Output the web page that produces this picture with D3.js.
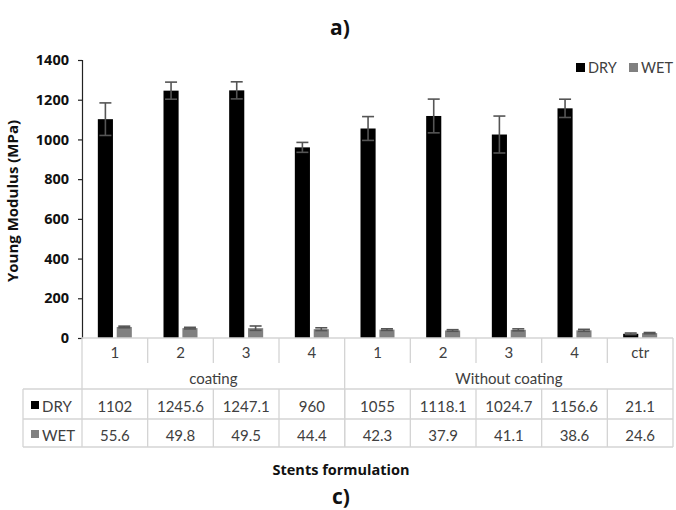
<!DOCTYPE html>
<html>
<head>
<meta charset="utf-8">
<script src="https://cdn.jsdelivr.net/npm/d3@7"></script>
<style>
  html, body { margin: 0; padding: 0; background: #fff; }
  svg { display: block; font-family: Lato, "Open Sans", sans-serif; }
  .bold { font-family: "Open Sans", Lato, sans-serif; font-weight: bold; }
</style>
</head>
<body>
<svg id="chart" width="676" height="510"></svg>
<script>
// ---- data ----
const categories = ["1", "2", "3", "4", "1", "2", "3", "4", "ctr"];
const groups = [
  { name: "coating", from: 0, to: 3 },
  { name: "Without coating", from: 4, to: 8 }
];
const seriesNames = ["DRY", "WET"];
const dryValues = [1102, 1245.6, 1247.1, 960, 1055, 1118.1, 1024.7, 1156.6, 21.1];
const wetValues = [55.6, 49.8, 49.5, 44.4, 42.3, 37.9, 41.1, 38.6, 24.6];
const dryErrors = [82, 43, 43, 25, 60, 85, 93, 46, 4];
const wetErrors = [4, 4, 11, 7, 4, 4, 5, 5, 3];
const yTicks = [0, 200, 400, 600, 800, 1000, 1200, 1400];
const dryLabels = ["1102", "1245.6", "1247.1", "960", "1055", "1118.1", "1024.7", "1156.6", "21.1"];
const wetLabels = ["55.6", "49.8", "49.5", "44.4", "42.3", "37.9", "41.1", "38.6", "24.6"];

const colors = { DRY: "#000000", WET: "#808080" };
const gridColor = "#d4d4d4";
const textColor = "#404040";

const svg = d3.select("#chart");

// layout
const plotLeft = 82, plotRight = 673, plotTop = 60, plotBottom = 338;
const tableLeft = 23;
const rowCatBottom = 363, rowGroupBottom = 389, rowDryBottom = 419, rowWetBottom = 447;

const x = d3.scaleBand().domain(d3.range(categories.length)).range([plotLeft, plotRight]).padding(0);
const y = d3.scaleLinear().domain([0, 1400]).range([plotBottom, plotTop]);
const groupWidth = 34;
const x1 = d3.scaleBand().domain(seriesNames).range([0, groupWidth]).paddingInner(0.2);

const rows = categories.map((c, i) => ({
  i,
  values: [
    { s: "DRY", v: dryValues[i], e: dryErrors[i] },
    { s: "WET", v: wetValues[i], e: wetErrors[i] }
  ]
}));

// title
svg.append("text").attr("class", "bold").attr("x", 340).attr("y", 35).attr("text-anchor", "middle")
  .attr("font-size", 21).attr("fill", "#111").text("a)");

// y axis
const yAxis = d3.axisLeft(y).tickValues(yTicks).tickSize(4).tickFormat(d3.format("d"));
const gy = svg.append("g").attr("transform", `translate(${plotLeft},0)`).call(yAxis);
gy.select(".domain").attr("stroke", "#222").attr("stroke-width", 1.2);
gy.selectAll(".tick line").attr("stroke", "#222").attr("stroke-width", 1.2);
gy.selectAll(".tick text").attr("class", "bold").attr("x", -13).attr("font-size", 14.5)
  .attr("fill", "#111");

svg.append("text").attr("class", "bold").attr("transform", `translate(18,${(plotTop + plotBottom) / 2 + 2}) rotate(-90)`)
  .attr("text-anchor", "middle").attr("font-size", 15).attr("fill", "#111")
  .text("Young Modulus (MPa)");

// bars
const gBars = svg.append("g");
const catG = gBars.selectAll("g.cat").data(rows).join("g")
  .attr("transform", d => `translate(${x(d.i) + x.bandwidth() / 2 - groupWidth / 2},0)`);
catG.selectAll("rect").data(d => d.values).join("rect")
  .attr("x", d => x1(d.s)).attr("width", x1.bandwidth())
  .attr("y", d => y(d.v)).attr("height", d => y(0) - y(d.v))
  .attr("fill", d => colors[d.s]);

// error bars
const capW = 12;
const eb = catG.selectAll("g.err").data(d => d.values).join("g").attr("class", "err")
  .attr("stroke", "#555").attr("stroke-width", 1.6);
eb.append("line")
  .attr("x1", d => x1(d.s) + x1.bandwidth() / 2).attr("x2", d => x1(d.s) + x1.bandwidth() / 2)
  .attr("y1", d => y(d.v + d.e)).attr("y2", d => y(Math.max(0, d.v - d.e)));
eb.append("line")
  .attr("x1", d => x1(d.s) + x1.bandwidth() / 2 - capW / 2).attr("x2", d => x1(d.s) + x1.bandwidth() / 2 + capW / 2)
  .attr("y1", d => y(d.v + d.e)).attr("y2", d => y(d.v + d.e));
eb.append("line")
  .attr("x1", d => x1(d.s) + x1.bandwidth() / 2 - capW / 2).attr("x2", d => x1(d.s) + x1.bandwidth() / 2 + capW / 2)
  .attr("y1", d => y(Math.max(0, d.v - d.e))).attr("y2", d => y(Math.max(0, d.v - d.e)));

// legend (top right)
const legend = svg.append("g");
const legendItems = [{ s: "DRY", x: 576 }, { s: "WET", x: 629 }];
legendItems.forEach(li => {
  legend.append("rect").attr("x", li.x).attr("y", 63).attr("width", 9).attr("height", 9).attr("fill", colors[li.s]);
  legend.append("text").attr("x", li.x + 12).attr("y", 73).attr("font-size", 14.5).attr("fill", textColor).text(li.s);
});

// table grid
const tg = svg.append("g").attr("stroke", gridColor).attr("stroke-width", 1.3).attr("fill", "none");
tg.append("line").attr("x1", plotLeft).attr("x2", plotRight).attr("y1", plotBottom).attr("y2", plotBottom);
d3.range(categories.length + 1).forEach(k => {
  const xx = k < categories.length ? x(k) : plotRight;
  const isGroupEdge = k === 0 || k === categories.length || groups.some(g => g.from === k);
  tg.append("line").attr("x1", xx).attr("x2", xx).attr("y1", plotBottom)
    .attr("y2", isGroupEdge ? rowWetBottom : rowCatBottom);
});
d3.range(categories.length).forEach(k => {
  if (k === 0) return;
  tg.append("line").attr("x1", x(k)).attr("x2", x(k)).attr("y1", rowGroupBottom).attr("y2", rowWetBottom);
});
[rowGroupBottom, rowDryBottom, rowWetBottom].forEach(yy => {
  tg.append("line").attr("x1", tableLeft).attr("x2", plotRight).attr("y1", yy).attr("y2", yy);
});
tg.append("line").attr("x1", tableLeft).attr("x2", tableLeft).attr("y1", rowGroupBottom).attr("y2", rowWetBottom);

// table text
const tt = svg.append("g").attr("font-size", 15).attr("fill", textColor).attr("text-anchor", "middle");
categories.forEach((c, i) => {
  tt.append("text").attr("x", x(i) + x.bandwidth() / 2).attr("y", 358).text(c);
  tt.append("text").attr("x", x(i) + x.bandwidth() / 2).attr("y", 412).text(dryLabels[i]);
  tt.append("text").attr("x", x(i) + x.bandwidth() / 2).attr("y", 441).text(wetLabels[i]);
});
groups.forEach(g => {
  const cx = (x(g.from) + x(g.to) + x.bandwidth()) / 2;
  tt.append("text").attr("x", cx).attr("y", 384).text(g.name);
});
[{ s: "DRY", yy: 401, ty: 412 }, { s: "WET", yy: 430, ty: 441 }].forEach(r => {
  svg.append("rect").attr("x", 31).attr("y", r.yy).attr("width", 8).attr("height", 8).attr("fill", colors[r.s]);
  svg.append("text").attr("x", 42).attr("y", r.ty).attr("font-size", 15).attr("fill", textColor).text(r.s);
});

// x axis title and bottom label
svg.append("text").attr("class", "bold").attr("x", 341).attr("y", 475).attr("text-anchor", "middle")
  .attr("font-size", 14.5).attr("fill", "#111").text("Stents formulation");
svg.append("text").attr("class", "bold").attr("x", 341).attr("y", 504).attr("text-anchor", "middle")
  .attr("font-size", 21).attr("fill", "#111").text("c)");
</script>
</body>
</html>
